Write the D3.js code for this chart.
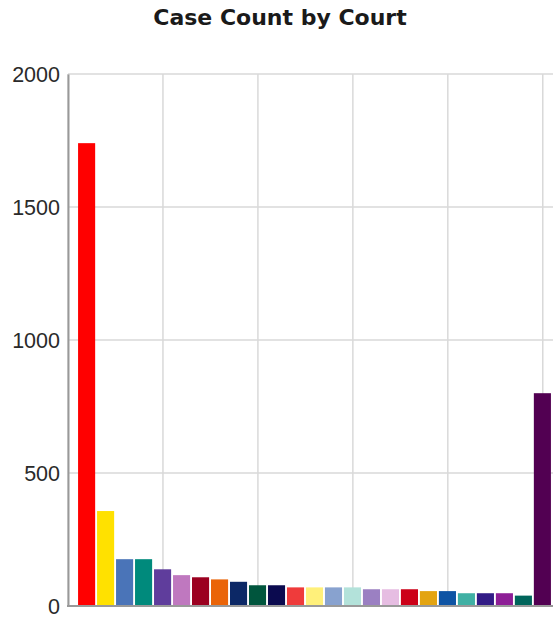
<!DOCTYPE html>
<html lang="en">
<head>
    <meta charset="UTF-8">
    <title>Case Count by Court</title>
    <script src="https://d3js.org/d3.v7.min.js"></script>
    <style>
        body {
            margin: 0;
            background: #ffffff;
        }
        svg {
            display: block;
        }
        .title {
            font-family: 'DejaVu Sans', Verdana, sans-serif;
            font-weight: bold;
            font-size: 22px;
            fill: #1a1a1a;
        }
    </style>
</head>
<body>
    <div id="chart"></div>

    <script>
        // Chart data
        const courts = [
            "Court 1", "Court 2", "Court 3", "Court 4", "Court 5",
            "Court 6", "Court 7", "Court 8", "Court 9", "Court 10",
            "Court 11", "Court 12", "Court 13", "Court 14", "Court 15",
            "Court 16", "Court 17", "Court 18", "Court 19", "Court 20",
            "Court 21", "Court 22", "Court 23", "Court 24", "Court 25"
        ];
        const caseCounts = [
            1740, 357, 176, 176, 138,
            116, 108, 100, 91, 78,
            78, 70, 70, 70, 70,
            63, 63, 63, 56, 56,
            48, 48, 48, 39, 800
        ];
        const barColors = [
            "#ff0000", "#ffe100", "#4a74b8", "#008a7c", "#5f3d9c",
            "#bf78bf", "#9b0020", "#ea6408", "#0c2866", "#00553d",
            "#0b0a4f", "#ef3b3b", "#fff07a", "#88a2cf", "#b3e2da",
            "#9b80c2", "#e6bde2", "#cc0018", "#e3a412", "#0e54a4",
            "#40b0a4", "#321c86", "#8d1e96", "#00655b", "#520052"
        ];
        const yTicks = [0, 500, 1000, 1500, 2000];

        const width = 553, height = 619;
        const margin = { top: 74, left: 68, bottom: 13 };
        const plotRight = 561; // plot runs past the visible edge

        const svg = d3.select("#chart").append("svg")
            .attr("width", width).attr("height", height);

        // Title
        svg.append("text")
            .attr("class", "title")
            .attr("x", 280)
            .attr("y", 25)
            .attr("text-anchor", "middle")
            .text("Case Count by Court");

        const x = d3.scaleBand()
            .domain(courts)
            .range([margin.left, plotRight])
            .paddingInner(0.1)
            .paddingOuter(0.53);

        const y = d3.scaleLinear()
            .domain([0, 2000])
            .range([height - margin.bottom, margin.top]);

        // Horizontal gridlines
        svg.append("g")
            .selectAll("line")
            .data(yTicks)
            .enter().append("line")
            .attr("x1", margin.left).attr("x2", plotRight)
            .attr("y1", d => y(d)).attr("y2", d => y(d))
            .attr("stroke", "#d9d9d9")
            .attr("stroke-width", 1.5);

        // Vertical gridlines every 5 bars
        const step = x.step();
        const vGrid = d3.range(0, 6).map(k => margin.left + k * 5 * step);
        svg.append("g")
            .selectAll("line")
            .data(vGrid)
            .enter().append("line")
            .attr("x1", d => d).attr("x2", d => d)
            .attr("y1", margin.top).attr("y2", y(0))
            .attr("stroke", "#d9d9d9")
            .attr("stroke-width", 1.5);

        // Bars
        svg.append("g")
            .selectAll("rect")
            .data(courts)
            .enter().append("rect")
            .attr("x", d => x(d))
            .attr("y", (d, i) => y(caseCounts[i]))
            .attr("width", x.bandwidth())
            .attr("height", (d, i) => y(0) - y(caseCounts[i]))
            .attr("fill", (d, i) => barColors[i]);

        // Y axis
        const yAxis = svg.append("g")
            .attr("transform", `translate(${margin.left},0)`)
            .call(d3.axisLeft(y).tickValues(yTicks).tickFormat(d3.format("d")).tickSize(0).tickPadding(8))
            .attr("font-family", "'Liberation Sans', Arial, sans-serif")
            .attr("font-size", 21.5);
        yAxis.select(".domain").attr("stroke", "#999").attr("stroke-width", 2);
        yAxis.selectAll("text").attr("fill", "#2a2a2a").attr("dy", "0.35em");

        // X baseline
        svg.append("line")
            .attr("x1", margin.left - 1).attr("x2", plotRight)
            .attr("y1", y(0)).attr("y2", y(0))
            .attr("stroke", "#999")
            .attr("stroke-width", 2);
    </script>
</body>
</html>
